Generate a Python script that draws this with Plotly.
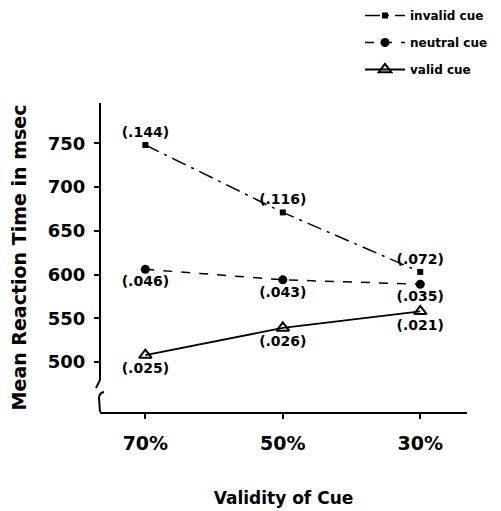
import plotly.graph_objects as go

validity = ["70%", "50%", "30%"]
invalid_rt = [748, 671, 603]
neutral_rt = [606, 594, 589]
valid_rt = [508, 539, 558]
invalid_err = ["(.144)", "(.116)", "(.072)"]
neutral_err = ["(.046)", "(.043)", "(.035)"]
valid_err = ["(.025)", "(.026)", "(.021)"]
y_ticks = [500, 550, 600, 650, 700, 750]

FONT = "DejaVu Sans"
OFF = 8  # page body margin
L, T, R, B = 100 - OFF, 103 - OFF, 467 - OFF, 412 - OFF
W, H = 501, 511

def pxx(x):
    return (x - OFF - L) / (R - L)

def pyy(y):
    return (B - (y - OFF)) / (B - T)

def f(size):
    return dict(family=FONT, size=size, color="black", weight="bold")

fig = go.Figure()
fig.add_trace(go.Scatter(
    x=validity, y=invalid_rt, name="invalid cue", mode="lines+markers+text",
    text=invalid_err, textposition="top center",
    line=dict(color="black", width=1.5, dash="longdashdot"),
    marker=dict(symbol="square", size=6, color="black"),
    textfont=f(14),
    legendgroup="a",
))
fig.add_trace(go.Scatter(
    x=validity, y=neutral_rt, name="neutral cue", mode="lines+markers+text",
    text=neutral_err, textposition="bottom center",
    line=dict(color="black", width=1.5, dash="dash"),
    marker=dict(symbol="circle", size=9, color="black"),
    textfont=f(14),
    legendgroup="b",
))
fig.add_trace(go.Scatter(
    x=validity, y=valid_rt, name="valid cue", mode="lines+markers+text",
    text=valid_err, textposition="bottom center",
    line=dict(color="black", width=1.8),
    marker=dict(symbol="triangle-up-open", size=11, color="black", line=dict(width=2)),
    textfont=f(14),
    legendgroup="c",
))

shapes = [
    dict(type="line", xref="paper", yref="paper", x0=pxx(100), x1=pxx(100),
         y0=pyy(103), y1=pyy(380), line=dict(color="black", width=2)),
    dict(type="path", xref="paper", yref="paper",
         path=f"M {pxx(100)} {pyy(380)} L {pxx(96)} {pyy(388)}",
         line=dict(color="black", width=2)),
    dict(type="path", xref="paper", yref="paper",
         path=(f"M {pxx(104)} {pyy(392)} Q {pxx(99)} {pyy(393)} {pxx(99)} {pyy(398)} "
               f"L {pxx(100)} {pyy(412)}"),
         line=dict(color="black", width=2)),
]

fig.update_layout(
    width=W, height=H,
    margin=dict(l=L, r=W - R, t=T, b=H - B, autoexpand=False),
    paper_bgcolor="white", plot_bgcolor="white",
    font=dict(family=FONT, color="black"),
    shapes=shapes,
    showlegend=True,
    legend=dict(x=pxx(360), y=pyy(1), xanchor="left", yanchor="top",
                font=f(12),
                tracegroupgap=8, bgcolor="rgba(0,0,0,0)", itemwidth=40),
    xaxis=dict(
        type="category", range=[-0.33, 2.34], automargin=False,
        showline=True, linecolor="black", linewidth=2,
        ticks="outside", ticklen=5, tickwidth=1.5, tickcolor="black",
        ticklabelstandoff=8,
        showgrid=False, zeroline=False,
        tickfont=f(19),
        title=dict(text="Validity of Cue", font=f(17), standoff=39),
    ),
    yaxis=dict(
        range=[443, 796], tickvals=y_ticks, automargin=False,
        showline=False, showgrid=False, zeroline=False,
        ticks="outside", ticklen=5, tickwidth=1.5, tickcolor="black",
        ticklabelstandoff=5,
        tickfont=f(18),
        title=dict(text="Mean Reaction Time in msec", font=f(19), standoff=22),
    ),
)

fig.write_html("out.html")
